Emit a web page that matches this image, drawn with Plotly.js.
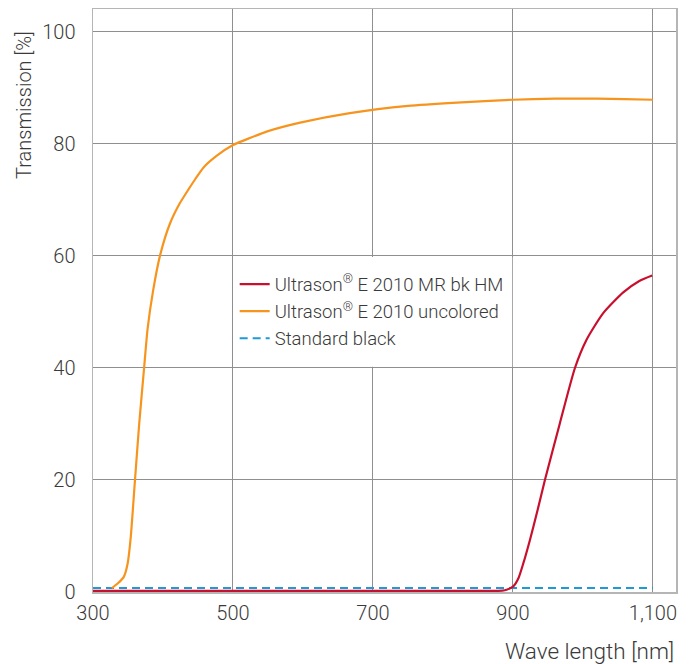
<!DOCTYPE html>
<html>
<head>
<meta charset="utf-8">
<script src="https://cdn.plot.ly/plotly-3.0.1.min.js"></script>
<style>
html,body{margin:0;padding:0;background:#fff;}
#chart{width:692px;height:664px;}
</style>
</head>
<body>
<div id="chart"></div>
<script>
// Ultrason E 2010 MR bk HM
const redWave = [300, 860, 885, 891, 900.5, 908, 914.8, 924.3, 935, 945.7, 967, 988.6, 1005, 1029, 1057.6, 1080, 1099];
const redVal  = [0.2, 0.2, 0.25, 0.4, 1.0, 2.5, 5.1, 9.3, 14.5, 20, 30.1, 40, 45, 49.8, 53.5, 55.5, 56.5];

// Ultrason E 2010 uncolored
const orangeWave = [327, 336, 344, 349.5, 354, 360, 366, 373, 378, 386, 396, 410, 424, 436, 446, 458, 477, 500, 525, 548, 596, 667, 750, 820, 900, 960, 1020, 1060, 1100];
const orangeVal  = [0.7, 1.6, 2.7, 5.1, 9.9, 20, 30, 40, 47, 53.9, 60.2, 65.8, 69.4, 71.8, 73.7, 75.8, 77.9, 79.8, 81.1, 82.2, 83.8, 85.5, 86.8, 87.4, 87.9, 88.1, 88.1, 88.0, 87.9];

// Standard black
const blackWave = [300, 1100];
const blackVal  = [0.7, 0.7];

const seriesNames = ['Ultrason<sup>®</sup> E 2010 MR bk HM', 'Ultrason<sup>®</sup> E 2010 uncolored', 'Standard black'];
const xTickVals = [300, 500, 700, 900, 1100];
const xTickText = ['300', '500', '700', '900', '1,100'];
const yTickVals = [0, 20, 40, 60, 80, 100];

const FONT = 'Roboto, "Liberation Sans", Arial, sans-serif';
const TXT = '#3a3a3a';

const traces = [
  {x: blackWave, y: blackVal, name: seriesNames[2], mode: 'lines',
   line: {color: '#1f9ad6', width: 2, dash: '8px,5px'}, legendrank: 3},
  {x: orangeWave, y: orangeVal, name: seriesNames[1], mode: 'lines',
   line: {color: '#f7941d', width: 2.2, shape: 'spline', smoothing: 0.6}, legendrank: 2},
  {x: redWave, y: redVal, name: seriesNames[0], mode: 'lines',
   line: {color: '#c8102e', width: 2.2, shape: 'spline', smoothing: 0.6}, legendrank: 1}
];

const layout = {
  width: 692, height: 664,
  margin: {l: 93, r: 16, t: 9, b: 72},
  paper_bgcolor: '#fff', plot_bgcolor: '#fff',
  font: {family: FONT, color: TXT, size: 20, weight: 300},
  showlegend: true,
  legend: {
    x: 0.243, y: 0.560, xanchor: 'left', yanchor: 'top',
    bgcolor: 'rgba(0,0,0,0)', borderwidth: 0,
    font: {family: FONT, size: 18.5, color: TXT, weight: 300},
    traceorder: 'normal', tracegroupgap: 0, itemwidth: 30
  },
  xaxis: {
    range: [300, 1133], tickvals: xTickVals, ticktext: xTickText,
    showgrid: true, gridcolor: '#8f8f8f', gridwidth: 1,
    zeroline: false, showline: true, mirror: true, linecolor: '#b5b5b5', linewidth: 1.5,
    ticks: '', ticklabelstandoff: 2,
    tickfont: {family: FONT, size: 20, color: TXT, weight: 300}
  },
  yaxis: {
    range: [0, 104.1], tickvals: yTickVals,
    showgrid: true, gridcolor: '#8f8f8f', gridwidth: 1,
    zeroline: false, showline: true, mirror: true, linecolor: '#b5b5b5', linewidth: 1.5,
    ticks: '', ticklabelstandoff: 12,
    tickfont: {family: FONT, size: 20, color: TXT, weight: 300}
  },
  shapes: [
    {type: 'rect', xref: 'x', yref: 'y', x0: 501, x1: 899, y0: 40.2, y1: 59.8,
     fillcolor: '#ffffff', line: {width: 0}, layer: 'between'}
  ],
  annotations: [
    {text: 'Transmission [%]', xref: 'paper', yref: 'paper', x: -0.118, y: 0.966,
     xanchor: 'center', yanchor: 'top', textangle: -90, showarrow: false,
     font: {family: FONT, size: 20, color: TXT, weight: 300}},
    {text: 'Wave length [nm]', xref: 'paper', yref: 'paper', x: 1.0, y: -0.101,
     xanchor: 'right', yanchor: 'middle', showarrow: false,
     font: {family: FONT, size: 22.5, color: TXT, weight: 300}}
  ]
};

Plotly.newPlot('chart', traces, layout, {displayModeBar: false, staticPlot: true});
</script>
</body>
</html>
